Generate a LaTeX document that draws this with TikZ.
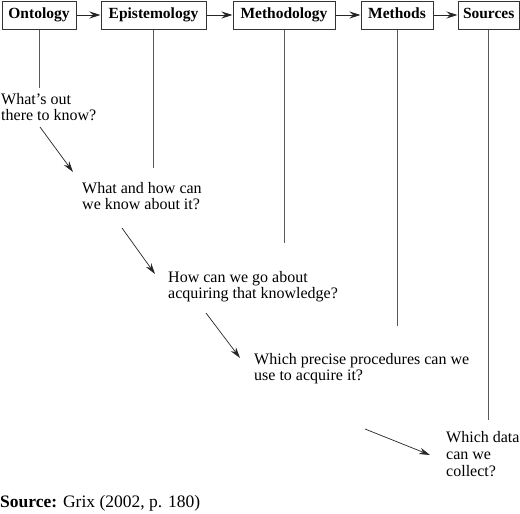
\documentclass[tikz,border=0pt]{standalone}
\usepackage{fontspec}
\setmainfont{Liberation Serif}
\usetikzlibrary{positioning,arrows.meta}
\begin{document}
\begin{tikzpicture}
[
    x=1pt, y=-1pt,
    stage/.style={draw=black!80, line width=1pt, minimum height=28pt, inner xsep=5pt, inner ysep=0pt,
        text height=11pt, text depth=3.5pt, font=\bfseries\fontsize{15.5}{19}\selectfont},
    question/.style={anchor=base west, align=left, inner sep=0pt, font=\fontsize{16}{16}\selectfont},
    step link/.style={-{Stealth[length=11pt,width=7pt]}, line width=1pt, black!85},
    ask link/.style={-{Stealth[length=11pt,width=6.5pt]}, line width=0.7pt, black!85},
    drop/.style={line width=1pt, black!65},
]
\useasboundingbox (0,0) rectangle (520,514);
\node [stage, minimum width=74pt] (ontology) at (39,15) {Ontology};
\node [stage, minimum width=105pt, right=24pt of ontology] (epistemology) {Epistemology};
\node [stage, minimum width=102pt, right=26pt of epistemology] (methodology) {Methodology};
\node [stage, minimum width=72pt, right=25pt of methodology] (methods) {Methods};
\node [stage, minimum width=59pt, right=24pt of methods] (sources) {Sources};
\draw [step link] (ontology) -- (epistemology);
\draw [step link] (epistemology) -- (methodology);
\draw [step link] (methodology) -- (methods);
\draw [step link] (methods) -- (sources);
\node [question] (know) at (1,120) {What's out\\there to know?};
\node [question] (how) at (82,209) {What and how can\\we know about it?};
\node [question] (acquire) at (168,298) {How can we go about\\acquiring that knowledge?};
\node [question] (procedures) at (254,380) {Which precise procedures can we\\use to acquire it?};
\node [question, font=\fontsize{16}{17}\selectfont] (data) at (446,476) {Which data\\can we\\collect?};
\coordinate (ontology foot) at (ontology.south |- 0,88);
\coordinate (epistemology foot) at (epistemology.south |- 0,168);
\coordinate (methodology foot) at (methodology.south |- 0,243);
\coordinate (methods foot) at (methods.south |- 0,326);
\coordinate (sources foot) at (sources.south |- 0,420);
\draw [drop] (ontology) -- (ontology foot);
\draw [drop] (epistemology) -- (epistemology foot);
\draw [drop] (methodology) -- (methodology foot);
\draw [drop] (methods) -- (methods foot);
\draw [drop] (sources) -- (sources foot);
\coordinate (know tail) at (40,127);
\coordinate (how head) at (73,172);
\coordinate (how tail) at (122,228);
\coordinate (acquire head) at (155,274);
\coordinate (acquire tail) at (206,313);
\coordinate (procedures head) at (240,358);
\coordinate (procedures tail) at (365,429);
\coordinate (data head) at (430,455);
\draw [ask link] (know tail) -- (how head);
\draw [ask link] (how tail) -- (acquire head);
\draw [ask link] (acquire tail) -- (procedures head);
\draw [ask link] (procedures tail) -- (data head);
\node [anchor=base west, inner sep=0pt, font=\fontsize{17.5}{20}\selectfont] (source) at (0,507)
    {\textbf{Source:} Grix (2002, p. 180)};
\end{tikzpicture}
\end{document}
